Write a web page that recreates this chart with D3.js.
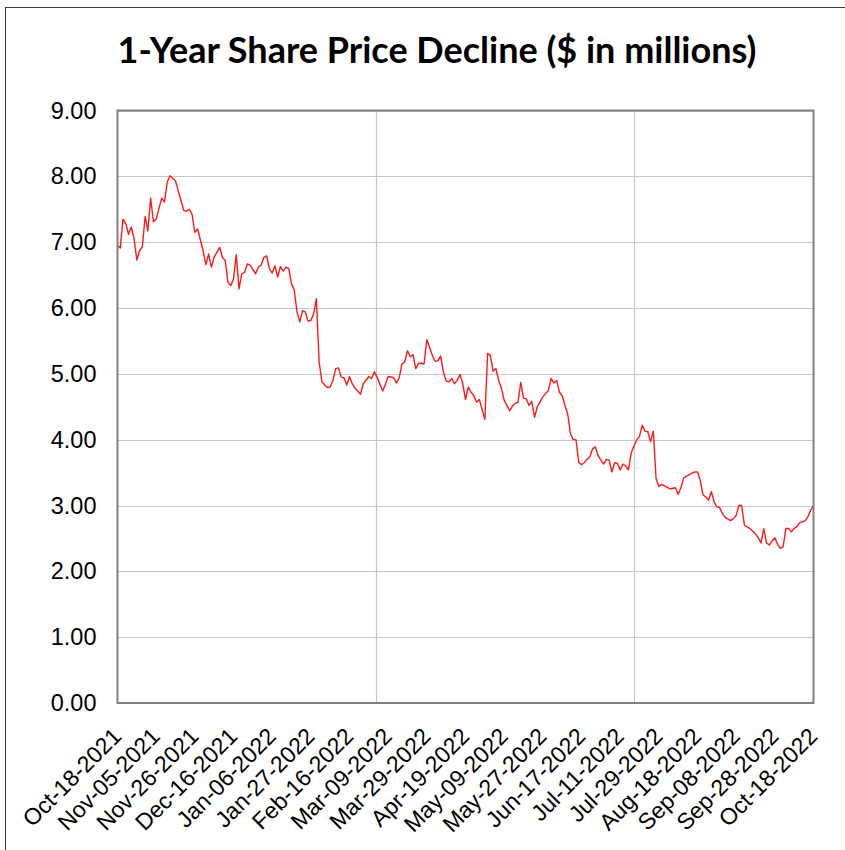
<!DOCTYPE html>
<html>
<head>
<meta charset="utf-8">
<script src="https://cdn.jsdelivr.net/npm/d3@7"></script>
<style>
  body { margin: 0; background: #fff; }
  svg { display: block; }
</style>
</head>
<body>
<div id="chart"></div>
<script>
// trading days counted from Oct-18-2021, and the share price read at each one
var tradingDay = [
  0, 1, 2, 3, 4, 5, 6, 7, 8, 9, 10, 11, 12, 13, 14, 16, 17, 18, 19, 21, 22, 23, 24, 25, 26, 27, 28, 29,
  31, 32, 33, 34, 35, 37, 38, 39, 40, 41, 42, 43, 44, 45, 46, 47, 48, 50, 51, 52, 53, 54, 55, 56, 57,
  58, 59, 60, 61, 62, 63, 64, 65, 66, 67, 68, 69, 70, 71, 72, 73, 74, 76, 77, 78, 79, 80, 81, 82, 83,
  84, 85, 86, 88, 89, 91, 92, 93, 94, 96, 97, 98, 100, 101, 102, 103, 104, 105, 106, 107, 108, 109,
  110, 111, 112, 114, 115, 116, 117, 118, 119, 120, 121, 122, 123, 124, 125, 126, 127, 128, 129, 130,
  131, 132, 133, 134, 135, 136, 137, 138, 139, 140, 142, 143, 144, 145, 146, 147, 148, 149, 150, 151,
  152, 154, 155, 156, 157, 158, 159, 160, 161, 162, 163, 164, 165, 166, 167, 168, 169, 170, 171, 172,
  173, 174, 175, 176, 177, 178, 179, 180, 181, 182, 183, 184, 185, 186, 188, 189, 190, 191, 192, 193,
  194, 195, 196, 197, 199, 200, 202, 203, 204, 205, 207, 209, 210, 211, 212, 213, 214, 215, 216, 217,
  218, 219, 220, 222, 223, 224, 225, 226, 227, 229, 230, 231, 232, 233, 234, 235, 236, 237, 238, 239,
  240, 241, 242, 243, 244, 245, 246, 247, 248, 249, 250, 251, 252
];

var price = [
  6.95, 6.91, 7.35, 7.28, 7.12, 7.23, 7.05, 6.73, 6.87, 6.93, 7.39, 7.17, 7.67, 7.31, 7.35, 7.67, 7.61, 7.91, 8.01, 7.93, 7.78, 7.63, 7.48, 7.47, 7.50, 7.42, 7.15, 7.20,
  6.87, 6.66, 6.82, 6.62, 6.77, 6.92, 6.77, 6.72, 6.39, 6.34, 6.44, 6.81, 6.29, 6.52, 6.54, 6.67, 6.65, 6.52, 6.62, 6.65, 6.77, 6.79, 6.60, 6.53, 6.64,
  6.47, 6.63, 6.56, 6.62, 6.60, 6.37, 6.27, 5.94, 5.79, 5.96, 5.94, 5.80, 5.81, 5.91, 6.14, 5.18, 4.88, 4.79, 4.80, 4.90, 5.08, 5.09, 4.95, 4.94, 4.83,
  4.96, 4.85, 4.78, 4.69, 4.85, 4.96, 4.93, 5.03, 4.95, 4.74, 4.84, 4.96, 4.94, 4.86, 4.94, 5.15, 5.18, 5.35, 5.26, 5.29, 5.08, 5.16,
  5.16, 5.15, 5.52, 5.28, 5.19, 5.20, 5.27, 5.03, 4.89, 4.88, 4.93, 4.85, 4.90, 4.99, 4.85, 4.61, 4.80, 4.72, 4.67, 4.57,
  4.61, 4.46, 4.31, 5.31, 5.28, 5.04, 5.08, 4.90, 4.78, 4.60, 4.44, 4.51, 4.55, 4.57, 4.87, 4.63, 4.62, 4.52, 4.58, 4.34,
  4.50, 4.65, 4.70, 4.75, 4.93, 4.86, 4.90, 4.72, 4.67, 4.52, 4.39, 4.09, 4.00, 4.00, 3.65, 3.62, 3.65, 3.70, 3.74, 3.86,
  3.89, 3.76, 3.69, 3.63, 3.70, 3.69, 3.51, 3.65, 3.64, 3.54, 3.63, 3.60, 3.54, 3.80, 4.00, 4.05, 4.22, 4.13, 4.12, 3.97,
  4.13, 3.41, 3.29, 3.32, 3.28, 3.25, 3.27, 3.17, 3.27, 3.42, 3.47, 3.51, 3.51, 3.38, 3.16, 3.13, 3.08, 3.21, 3.06, 2.98,
  2.97, 2.88, 2.82, 2.77, 2.80, 2.85, 3.00, 3.00, 2.70, 2.65, 2.61, 2.57, 2.51, 2.43, 2.65, 2.43, 2.40, 2.46, 2.51, 2.41,
  2.35, 2.37, 2.65, 2.65, 2.60, 2.65, 2.68, 2.74, 2.75, 2.77, 2.83, 2.93, 3.00
];

var tickDays = [0, 14, 28, 42, 56, 70, 84, 98, 112, 126, 140, 154, 168, 182, 196, 210, 224, 238, 252];
var tickLabels = [
  "Oct-18-2021", "Nov-05-2021", "Nov-26-2021", "Dec-16-2021", "Jan-06-2022", "Jan-27-2022",
  "Feb-16-2022", "Mar-09-2022", "Mar-29-2022", "Apr-19-2022", "May-09-2022", "May-27-2022",
  "Jun-17-2022", "Jul-11-2022", "Jul-29-2022", "Aug-18-2022", "Sep-08-2022", "Sep-28-2022", "Oct-18-2022"
];
var yTicks = [0, 1, 2, 3, 4, 5, 6, 7, 8, 9];
var vGridDays = [93.5, 187];

var width = 845, height = 850;
var plotLeft = 117.5, plotRight = 813.5, plotTop = 110.5, plotBottom = 703;

var svg = d3.select("#chart").append("svg")
    .attr("width", width)
    .attr("height", height);

// outer frame of the chart box
svg.append("rect")
    .attr("x", 5.5).attr("y", 7.5)
    .attr("width", 900).attr("height", 900)
    .attr("fill", "#fff")
    .attr("stroke", "#3a3a3a")
    .attr("stroke-width", 1);

var x = d3.scaleLinear().domain([0, 252]).range([plotLeft, plotRight]);
var y = d3.scaleLinear().domain([0, 9]).range([plotBottom, plotTop]);

svg.append("text")
    .attr("x", 437).attr("y", 63)
    .attr("text-anchor", "middle")
    .style("font-family", "Lato, 'Open Sans', sans-serif")
    .style("font-weight", "bold")
    .style("font-size", "36px")
    .style("fill", "#000")
    .text("1-Year Share Price Decline ($ in millions)");

// grid
svg.append("g")
    .selectAll("line")
    .data(yTicks)
    .enter().append("line")
    .attr("x1", plotLeft).attr("x2", plotRight)
    .attr("y1", function (d) { return Math.round(y(d)) + 0.5; })
    .attr("y2", function (d) { return Math.round(y(d)) + 0.5; })
    .attr("stroke", "#c8c8c8")
    .attr("stroke-width", 1.2);

svg.append("g")
    .selectAll("line")
    .data(vGridDays)
    .enter().append("line")
    .attr("x1", function (d) { return Math.round(x(d)) + 0.5; })
    .attr("x2", function (d) { return Math.round(x(d)) + 0.5; })
    .attr("y1", plotTop).attr("y2", plotBottom)
    .attr("stroke", "#c8c8c8")
    .attr("stroke-width", 1.2);

// price line
var line = d3.line()
    .x(function (d, i) { return x(tradingDay[i]); })
    .y(function (d) { return y(d); });

svg.append("path")
    .datum(price)
    .attr("d", line)
    .attr("fill", "none")
    .attr("stroke", "#ff1a1a")
    .attr("stroke-width", 1.4)
    .attr("stroke-linejoin", "round");

// plot frame
svg.append("rect")
    .attr("x", plotLeft).attr("y", plotTop)
    .attr("width", plotRight - plotLeft).attr("height", plotBottom - plotTop)
    .attr("fill", "none")
    .attr("stroke", "#808080")
    .attr("stroke-width", 2);

// y axis
var yAxis = svg.append("g")
    .attr("transform", "translate(" + plotLeft + ",0)")
    .call(d3.axisLeft(y).tickValues(yTicks).tickFormat(d3.format(".2f")).tickSize(0).tickPadding(21));
yAxis.select(".domain").remove();
yAxis.selectAll("text")
    .style("font-family", "'Liberation Sans', Arial, sans-serif")
    .style("font-size", "23.5px")
    .style("fill", "#000");

// x axis with slanted labels
var xAxis = svg.append("g")
    .attr("transform", "translate(0," + plotBottom + ")")
    .call(d3.axisBottom(x).tickValues(tickDays).tickFormat(function (d, i) { return tickLabels[i]; }).tickSize(0));
xAxis.select(".domain").remove();
xAxis.selectAll("text")
    .attr("x", 0).attr("y", 0)
    .attr("dy", "0.35em")
    .attr("text-anchor", "end")
    .attr("transform", "translate(-1,29) rotate(-45)")
    .style("font-family", "'Liberation Sans', Arial, sans-serif")
    .style("font-size", "23px")
    .style("fill", "#000");
</script>
</body>
</html>
